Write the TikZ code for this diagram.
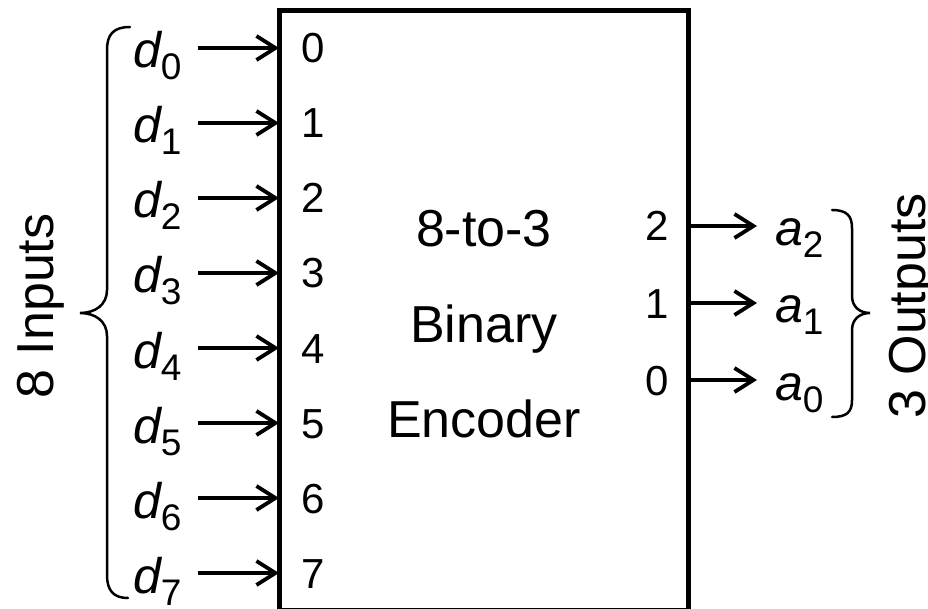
\documentclass[tikz,border=0pt]{standalone}
\usepackage{fontspec}
\setmainfont{Liberation Sans}
\usetikzlibrary{arrows.meta}
\newcommand{\sigl}[2]{\fontsize{50}{50}\selectfont\itshape #1\upshape\raisebox{-12pt}{\fontsize{37}{37}\selectfont #2}}
\begin{document}
\begin{tikzpicture}[x=1pt,y=-1pt,
  every node/.style={inner sep=0pt, outer sep=0pt},
  lbl/.style={anchor=base west},
  num/.style={anchor=base, font=\fontsize{42}{42}\selectfont},
  big/.style={font=\fontsize{52}{52}\selectfont},
  arr/.style={line width=3.8pt, -{Straight Barb[length=19pt,width=24pt]}},
  brace/.style={line width=2.5pt, line cap=round}]
\useasboundingbox (0,0) rectangle (928,609);
\node[draw, line width=5pt, minimum width=409pt, minimum height=599pt] (box) at (483.5,310.5) {};
\foreach \i in {0,...,7} {
  \pgfmathsetmacro\yy{48+75*\i}
  \node[lbl] (d\i) at (133,\yy+20) {\sigl{d}{\i}};
  \node[num] (n\i) at (313,\yy+15) {\i};
  \coordinate (s\i) at (198,\yy);
  \draw[arr] (s\i) -- (s\i -| box.west);
}
\foreach \b/\yy in {2/226,1/303,0/380} {
  \node[num] (m\b) at (657,\yy+15) {\b};
  \coordinate (e\b) at (757,\yy);
  \draw[arr] (box.east |- e\b) -- (e\b);
  \node[lbl] (a\b) at (775,\yy+20) {\sigl{a}{\b}};
}
\node[big, anchor=base] (t1) at (484,247) {8-to-3};
\node[big, anchor=base] (t2) at (484,342) {Binary};
\node[big, anchor=base] (t3) at (484,437) {Encoder};
\draw[brace] (130,27) .. controls (113,27) and (107,35) .. (107,50)
  -- (107,290) .. controls (107,305) and (95,313) .. (80,313)
  .. controls (95,313) and (107,321) .. (107,336)
  -- (107,575) .. controls (107,590) and (113,598) .. (128,598);
\draw[brace] (832,210) .. controls (847,210) and (852,216) .. (852,228)
  -- (852,296) .. controls (852,307) and (860,313) .. (870,313)
  .. controls (860,313) and (852,319) .. (852,330)
  -- (852,400) .. controls (852,412) and (847,417) .. (832,417);
\node[big, rotate=90, anchor=base] (inl) at (53,306) {8 Inputs};
\node[big, rotate=90, anchor=base] (outl) at (925,306) {3 Outputs};
\end{tikzpicture}
\end{document}
